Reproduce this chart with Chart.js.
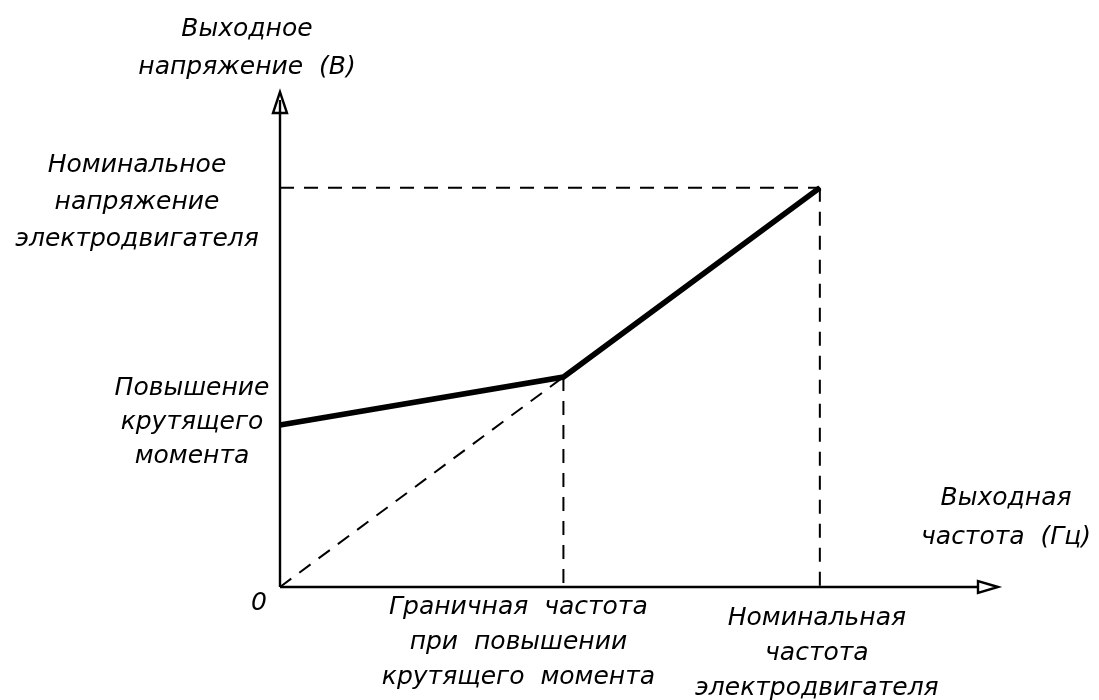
<!DOCTYPE html>
<html>
<head>
<meta charset="utf-8">
<script src="https://cdn.jsdelivr.net/npm/chart.js@4"></script>
<style>
  body { margin: 0; background: #ffffff; }
  #wrap { width: 1099px; height: 700px; position: relative; }
</style>
</head>
<body>
<div id="wrap"><canvas id="vfChart"></canvas></div>
<script>
// values in % of nominal
const curveFreq = [0, 52.5, 100];
const curveVolt = [40.6, 52.6, 100];
const boostFreq = 52.5;
const boostVolt = 52.6;
const nomFreq = 100;
const nomVolt = 100;
const axisMax = [133, 124]; // x, y

// labels
const yTitle = ['Выходное', 'напряжение  (В)'];
const xTitle = ['Выходная', 'частота  (Гц)'];
const nomVoltLabel = ['Номинальное', 'напряжение', 'электродвигателя'];
const boostLabel = ['Повышение', 'крутящего', 'момента'];
const boostFreqLabel = ['Граничная  частота', 'при  повышении', 'крутящего  момента'];
const nomFreqLabel = ['Номинальная', 'частота', 'электродвигателя'];

function pts(xs, ys) {
  return xs.map(function(x, i) { return { x: x, y: ys[i] }; });
}

const dash = [14, 10];

function dashed(data) {
  return {
    data: data,
    borderColor: '#000',
    borderWidth: 2,
    borderDash: dash,
    pointRadius: 0,
    showLine: true,
    fill: false,
    clip: false
  };
}

// axes, arrows and texts
const drawing = {
  id: 'drawing',
  afterDatasetsDraw(chart) {
    const ctx = chart.ctx;
    const xs = chart.scales.x;
    const ys = chart.scales.y;
    const x0 = xs.getPixelForValue(0);
    const y0 = ys.getPixelForValue(0);
    const xEnd = xs.getPixelForValue(axisMax[0]);
    const yEnd = ys.getPixelForValue(axisMax[1]);

    ctx.save();
    ctx.strokeStyle = '#000';
    ctx.lineWidth = 2.4;
    ctx.setLineDash([]);
    ctx.beginPath();
    ctx.moveTo(x0, y0);
    ctx.lineTo(x0, yEnd + 20);
    ctx.moveTo(x0, y0);
    ctx.lineTo(xEnd - 20, y0);
    ctx.stroke();

    // open arrow heads
    ctx.fillStyle = '#fff';
    ctx.beginPath();
    ctx.moveTo(x0, yEnd);
    ctx.lineTo(x0 - 7, yEnd + 21);
    ctx.lineTo(x0 + 7, yEnd + 21);
    ctx.closePath();
    ctx.fill();
    ctx.stroke();
    ctx.beginPath();
    ctx.moveTo(x0, yEnd + 21);
    ctx.lineTo(x0, yEnd + 8);
    ctx.stroke();

    ctx.beginPath();
    ctx.moveTo(xEnd, y0);
    ctx.lineTo(xEnd - 20, y0 - 6);
    ctx.lineTo(xEnd - 20, y0 + 6);
    ctx.closePath();
    ctx.fill();
    ctx.stroke();

    ctx.fillStyle = '#000';
    ctx.font = 'italic 25px "DejaVu Sans"';
    ctx.textAlign = 'center';
    ctx.textBaseline = 'middle';

    function block(lines, cx, cy, step) {
      lines.forEach(function(t, i) {
        ctx.fillText(t, cx, cy + i * step);
      });
    }

    block(yTitle, x0 - 33, 29, 38);
    block(nomVoltLabel, 137, 165, 37);
    block(boostLabel, 192, 388, 34);
    block(boostFreqLabel, xs.getPixelForValue(boostFreq) - 45, y0 + 20, 35);
    block(nomFreqLabel, xs.getPixelForValue(nomFreq) - 3, y0 + 31, 35);
    block(xTitle, 1006, 498, 39);
    ctx.fillText('0', x0 - 21, y0 + 16);
    ctx.restore();
  }
};

const ctx = document.getElementById('vfChart').getContext('2d');
new Chart(ctx, {
  type: 'scatter',
  data: {
    datasets: [
      dashed(pts([0, boostFreq], [0, boostVolt])),
      dashed(pts([boostFreq, boostFreq], [boostVolt, 0])),
      dashed(pts([nomFreq, nomFreq], [nomVolt, 0])),
      dashed(pts([0, nomFreq], [nomVolt, nomVolt])),
      {
        data: pts(curveFreq, curveVolt),
        borderColor: '#000',
        borderWidth: 5.5,
        pointRadius: 0,
        showLine: true,
        fill: false,
        clip: false
      }
    ]
  },
  options: {
    responsive: true,
    maintainAspectRatio: false,
    animation: false,
    layout: { padding: { left: 280, right: 101, top: 92, bottom: 113 } },
    plugins: {
      legend: { display: false },
      tooltip: { enabled: false }
    },
    scales: {
      x: { type: 'linear', min: 0, max: axisMax[0], display: false },
      y: { type: 'linear', min: 0, max: axisMax[1], display: false }
    }
  },
  plugins: [drawing]
});
</script>
</body>
</html>
